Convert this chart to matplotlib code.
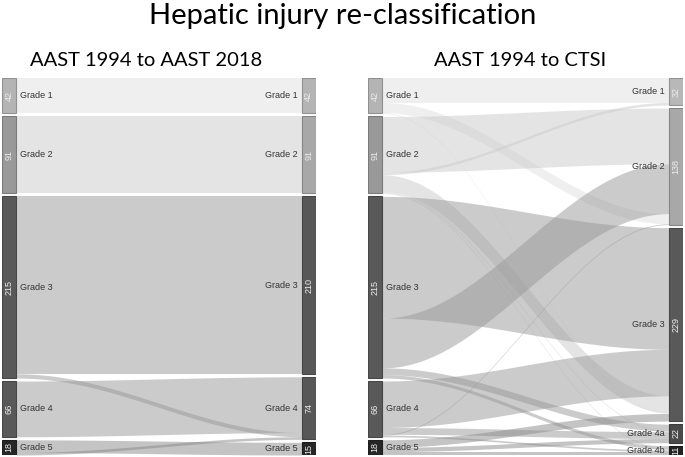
import numpy as np
import matplotlib.pyplot as plt
from matplotlib.patches import Rectangle

plt.rcParams['font.family'] = ['Liberation Sans', 'DejaVu Sans']

title = 'Hepatic injury re-classification'
subtitle_2018 = 'AAST 1994 to AAST 2018'
subtitle_ctsi = 'AAST 1994 to CTSI'

grades_1994 = ['Grade 1', 'Grade 2', 'Grade 3', 'Grade 4', 'Grade 5']
grades_2018 = ['Grade 1', 'Grade 2', 'Grade 3', 'Grade 4', 'Grade 5']
grades_ctsi = ['Grade 1', 'Grade 2', 'Grade 3', 'Grade 4a', 'Grade 4b']

# rows: AAST 1994 grade, columns: new grade
flows_2018 = [
    [42, 0, 0, 0, 0],
    [0, 91, 0, 0, 0],
    [0, 0, 210, 5, 0],
    [0, 0, 0, 66, 0],
    [0, 0, 0, 3, 15],
]
flows_ctsi = [
    [29, 12, 1, 0, 0],
    [3, 66, 20, 1, 1],
    [0, 59, 144, 8, 4],
    [0, 1, 55, 8, 2],
    [0, 0, 9, 5, 4],
]

# stacking order of the links on each node
src_order_2018 = [[0], [1], [2, 3], [3], [4, 3]]
tgt_order_2018 = [[0], [1], [2], [3, 2, 4], [4]]
src_order_ctsi = [[0, 1, 2], [1, 0, 2, 3, 4], [2, 1, 3, 4], [2, 3, 1, 4], [2, 3, 4]]
tgt_order_ctsi = [[0, 1], [1, 2, 0, 3], [2, 3, 1, 0, 4], [2, 1, 3, 4], [2, 1, 3, 4]]

left_node_colors = ['#b4b4b4', '#999999', '#595959', '#595959', '#262626']
right_node_colors_2018 = ['#b4b4b4', '#a8a8a8', '#575757', '#575757', '#262626']
right_node_colors_ctsi = ['#b8b8b8', '#a8a8a8', '#595959', '#4a4a4a', '#222222']
link_colors = ['#e1e1e1', '#cbcbcb', '#999999', '#999999', '#8a8a8a']

GAP = 3.55
NW = 0.046


def darker(c, f=0.8):
    v = int(c[1:3], 16)
    v = int(v * f)
    return '#%02x%02x%02x' % (v, v, v)


def stack_nodes(totals):
    return np.concatenate([[0], np.cumsum(np.array(totals) + GAP)[:-1]])


def graficar_sankey(ax, flows, left_labels, right_labels, right_colors, src_order, tgt_order):
    flows = np.array(flows)
    left_tot = flows.sum(axis=1)
    right_tot = flows.sum(axis=0)
    left_y = stack_nodes(left_tot)
    right_y = stack_nodes(right_tot)

    src_pos = {}
    for i, order in enumerate(src_order):
        cur = left_y[i]
        for j in order:
            src_pos[(i, j)] = cur
            cur += flows[i, j]
    tgt_pos = {}
    for j, order in enumerate(tgt_order):
        cur = right_y[j]
        for i in order:
            tgt_pos[(i, j)] = cur
            cur += flows[i, j]

    x = np.linspace(NW, 1 - NW, 300)
    s = (1 - np.cos(np.pi * (x - NW) / (1 - 2 * NW))) / 2
    for (i, j), ys in src_pos.items():
        f = flows[i, j]
        if f == 0:
            continue
        top = ys + (tgt_pos[(i, j)] - ys) * s
        ax.fill_between(x, top, top + f, color=link_colors[i], alpha=0.5, lw=0)

    for i, lab in enumerate(left_labels):
        h = left_tot[i]
        ax.add_patch(Rectangle((0, left_y[i]), NW, h, facecolor=left_node_colors[i],
                               edgecolor=darker(left_node_colors[i]), lw=0.8))
        ax.text(NW / 2, left_y[i] + h / 2, str(h), rotation=90, ha='center', va='center',
                fontsize=6.5, color='#eeeeee')
        ax.text(NW + 0.012, left_y[i] + h / 2, lab, ha='left', va='center', fontsize=6.5, color='#333333')
    for j, lab in enumerate(right_labels):
        h = right_tot[j]
        ax.add_patch(Rectangle((1 - NW, right_y[j]), NW, h, facecolor=right_colors[j],
                               edgecolor=darker(right_colors[j]), lw=0.8))
        ax.text(1 - NW / 2, right_y[j] + h / 2, str(h), rotation=90, ha='center', va='center',
                fontsize=6.5, color='#eeeeee')
        ax.text(1 - NW - 0.012, right_y[j] + h / 2, lab, ha='right', va='center', fontsize=6.5, color='#333333')

    ax.set_xlim(0, 1)
    ax.set_ylim(flows.sum() + 4 * GAP, 0)
    ax.axis('off')


fig = plt.figure(figsize=(6.85, 4.57), dpi=100)
ax1 = fig.add_axes([2 / 685, 2 / 457, 314 / 685, 377 / 457])
ax2 = fig.add_axes([368 / 685, 2 / 457, 315 / 685, 377 / 457])

graficar_sankey(ax1, flows_2018, grades_1994, grades_2018, right_node_colors_2018,
                src_order_2018, tgt_order_2018)
graficar_sankey(ax2, flows_ctsi, grades_1994, grades_ctsi, right_node_colors_ctsi,
                src_order_ctsi, tgt_order_ctsi)

fig.text(0.5, 1 - 16 / 457, title, ha='center', va='center', fontsize=21, family='Lato')
fig.text(146 / 685, 1 - 60 / 457, subtitle_2018, ha='center', va='center', fontsize=14.5, family='Lato')
fig.text(520 / 685, 1 - 60 / 457, subtitle_ctsi, ha='center', va='center', fontsize=14.5, family='Lato')

fig.savefig('out.png', dpi=100)
